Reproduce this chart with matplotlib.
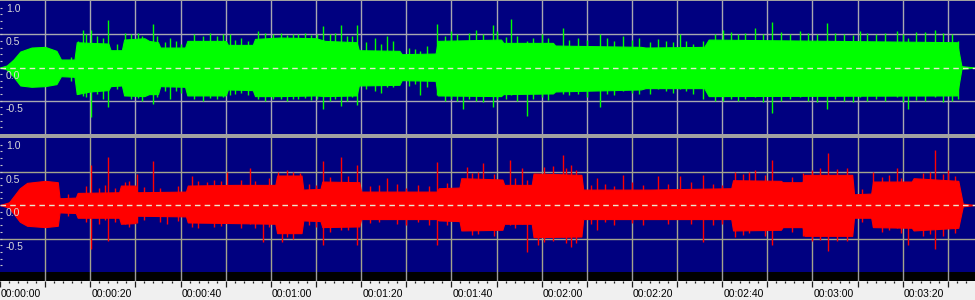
import numpy as np
import matplotlib
matplotlib.use('Agg')
import matplotlib.pyplot as plt

# time axis (seconds)
T_MAX = 216.0
label_secs = [0, 20, 40, 60, 80, 100, 120, 140, 160, 180, 200]
label_text = ['00:00:00', '00:00:20', '00:00:40', '00:01:00', '00:01:20',
              '00:01:40', '00:02:00', '00:02:20', '00:02:40', '00:03:00',
              '00:03:20']
amp_labels = [1.0, 0.5, 0.0, -0.5]

# left channel (green) envelope
left_t = [0, 1.5, 3, 4.5, 7, 10, 12.5, 13.5, 16.5, 17, 20, 24, 24.5, 27, 27.5,
          32, 33, 35, 35.5, 41, 41.5, 50, 50.5, 56, 56.5, 62, 70, 72, 79, 79.5,
          88.5, 89, 96.5, 97, 111, 111.5, 122.5, 123, 142, 143, 156, 157, 212,
          213, 216]
left_hi = [0.0, 0.03, 0.12, 0.24, 0.30, 0.31, 0.25, 0.12, 0.12, 0.38, 0.37,
           0.36, 0.26, 0.26, 0.42, 0.44, 0.40, 0.38, 0.30, 0.30, 0.40, 0.40,
           0.34, 0.34, 0.43, 0.45, 0.44, 0.40, 0.38, 0.26, 0.25, 0.20, 0.21,
           0.40, 0.42, 0.37, 0.37, 0.33, 0.31, 0.30, 0.31, 0.42, 0.38, 0.02,
           0.0]
left_lo = [0.0, -0.03, -0.14, -0.27, -0.29, -0.28, -0.25, -0.13, -0.14, -0.40,
           -0.36, -0.34, -0.28, -0.27, -0.42, -0.43, -0.40, -0.40, -0.28,
           -0.29, -0.42, -0.42, -0.33, -0.34, -0.43, -0.43, -0.42, -0.43,
           -0.42, -0.27, -0.26, -0.19, -0.20, -0.42, -0.43, -0.40, -0.39,
           -0.36, -0.33, -0.31, -0.31, -0.43, -0.42, -0.02, 0.0]
# single peaks sticking out of the envelope
left_spk_t = [15.7, 17.3, 18.4, 20.1, 24.0, 27.7, 33.9, 37.7, 50.9, 57.2, 64.9,
              71.5, 75.5, 79.1, 85.7, 93.0, 96.8, 102.5, 109.2, 113.2, 116.8,
              124.7, 132.9, 138.0, 145.8, 150.6, 155.7, 160.1, 167.2, 171.0,
              177.2, 183.2, 190.5, 198.7, 201.1, 207.1, 212.2,
              19, 21.5, 22.8, 26, 29, 30.5, 31.5, 34.8, 36.5, 39, 40.2, 43,
              45, 46.5, 48, 49.3, 52, 53.5, 55, 58.8, 60.5, 62.3, 63.5, 66,
              67.5, 68.8, 70.2, 73, 74.3, 76.8, 78, 81, 83, 84.5, 87, 90.5,
              92, 94.5, 98.5, 100, 101.3, 104, 105.5, 107, 110, 112, 114.5,
              118, 120, 121.5, 126, 128, 130, 134.5, 136, 140, 141.5, 144,
              147.5, 149, 152, 153.5, 158.5, 162, 163.5, 165, 169, 173, 175,
              179, 181, 185, 187, 189, 192, 194, 196, 200, 203, 205, 209, 211]
left_spk_hi = [0.16, 0.40, 0.57, 0.57, 0.72, 0.52, 0.65, 0.45, 0.50, 0.55, 0.50,
               0.62, 0.64, 0.64, 0.48, 0.25, 0.66, 0.40, 0.64, 0.73, 0.40,
               0.60, 0.50, 0.48, 0.43, 0.50, 0.40, 0.57, 0.60, 0.69, 0.55,
               0.67, 0.55, 0.55, 0.45, 0.56, 0.40,
               0.50, 0.48, 0.45, 0.35, 0.50, 0.52, 0.48, 0.47, 0.38, 0.40,
               0.36, 0.50, 0.47, 0.52, 0.48, 0.50, 0.42, 0.45, 0.40, 0.52,
               0.50, 0.52, 0.49, 0.50, 0.52, 0.49, 0.51, 0.50, 0.52, 0.47,
               0.48, 0.38, 0.45, 0.35, 0.40, 0.30, 0.28, 0.32, 0.48, 0.55,
               0.50, 0.52, 0.56, 0.50, 0.55, 0.46, 0.48, 0.45, 0.50, 0.44,
               0.42, 0.45, 0.42, 0.44, 0.40, 0.42, 0.44, 0.38, 0.40, 0.38,
               0.40, 0.36, 0.50, 0.53, 0.50, 0.52, 0.50, 0.54, 0.50, 0.52,
               0.50, 0.52, 0.50, 0.49, 0.52, 0.50, 0.52, 0.50, 0.53, 0.54,
               0.52, 0.50]
left_spk_lo = [-0.20, -0.40, -0.43, -0.75, -0.60, -0.42, -0.55, -0.48, -0.42,
               -0.48, -0.48, -0.63, -0.58, -0.57, -0.30, -0.41, -0.42, -0.63,
               -0.59, -0.42, -0.73, -0.40, -0.60, -0.36, -0.33, -0.33, -0.48,
               -0.50, -0.45, -0.68, -0.45, -0.63, -0.45, -0.45, -0.63, -0.45,
               -0.48,
               -0.45, -0.40, -0.48, -0.33, -0.48, -0.46, -0.50, -0.45, -0.36,
               -0.35, -0.38, -0.47, -0.50, -0.46, -0.48, -0.45, -0.40, -0.38,
               -0.42, -0.50, -0.47, -0.48, -0.50, -0.48, -0.46, -0.49, -0.47,
               -0.50, -0.47, -0.50, -0.45, -0.32, -0.35, -0.38, -0.30, -0.28,
               -0.25, -0.30, -0.50, -0.48, -0.50, -0.48, -0.50, -0.52, -0.48,
               -0.47, -0.50, -0.47, -0.45, -0.49, -0.42, -0.40, -0.45, -0.40,
               -0.42, -0.38, -0.40, -0.40, -0.36, -0.38, -0.36, -0.40, -0.50,
               -0.48, -0.50, -0.47, -0.52, -0.50, -0.48, -0.50, -0.52, -0.48,
               -0.50, -0.52, -0.50, -0.48, -0.50, -0.52, -0.49, -0.50, -0.52,
               -0.50]

# right channel (red)
right_t = [0, 2, 4.4, 6, 10, 12.8, 13.2, 16.8, 17.2, 26.4, 26.8, 30, 30.4, 41.2,
           41.6, 52, 61, 61.4, 66.8, 67.2, 71, 71.4, 79.6, 80, 96.8, 97.2,
           101.8, 102.2, 111.3, 111.7, 117.8, 118.2, 128.8, 129.2, 144, 162,
           162.4, 173, 173.4, 177.8, 178.2, 188.8, 189.2, 193, 193.4, 202,
           202.4, 212.3, 213.3, 216]
right_hi = [0.0, 0.04, 0.25, 0.33, 0.36, 0.34, 0.10, 0.11, 0.18, 0.19, 0.29,
            0.29, 0.19, 0.20, 0.29, 0.30, 0.30, 0.44, 0.44, 0.23, 0.24, 0.35,
            0.34, 0.20, 0.20, 0.25, 0.26, 0.40, 0.38, 0.30, 0.30, 0.47, 0.45,
            0.23, 0.23, 0.25, 0.37, 0.36, 0.34, 0.34, 0.45, 0.45, 0.16, 0.17,
            0.35, 0.35, 0.40, 0.36, 0.02, 0.0]
right_lo = [0.0, -0.04, -0.25, -0.31, -0.33, -0.31, -0.11, -0.12, -0.19, -0.19,
            -0.28, -0.27, -0.16, -0.17, -0.26, -0.27, -0.28, -0.42, -0.42,
            -0.23, -0.24, -0.33, -0.32, -0.21, -0.21, -0.23, -0.24, -0.38,
            -0.37, -0.28, -0.28, -0.48, -0.47, -0.21, -0.21, -0.21, -0.38,
            -0.37, -0.33, -0.33, -0.46, -0.46, -0.19, -0.19, -0.33, -0.34,
            -0.38, -0.34, -0.02, 0.0]
right_spk_t = [15.1, 20.1, 24.0, 27.7, 30.3, 33.9, 37.0, 42.5, 45.8, 50.2, 55.4,
               58.3, 61.6, 62.4, 66.4, 71.6, 75.5, 79.1, 85.7, 96.8, 103.4,
               107.0, 113.0, 115.6, 116.8, 119.2, 124.7, 126.6, 132.2, 138.0,
               145.8, 150.6, 155.7, 162.8, 167.2, 171.0, 177.9, 183.4, 187.6,
               193.4, 198.7, 201.1, 207.1, 210.0,
               19, 22, 23.3, 25.5, 28.5, 32, 35.5, 39.5, 43.8, 47.5, 49, 53.5,
               56.5, 59.5, 63.5, 65, 68.5, 70, 73, 77, 82, 84, 88, 90, 92.5,
               95, 99, 104.5, 106, 109.5, 114, 120.5, 122.5, 125.5, 127.5,
               131, 134, 136, 140, 142.5, 148, 153, 158, 160, 164.5, 166,
               169.5, 175.5, 180, 181.7, 185.5, 191, 195.5, 197, 199.5, 204.5,
               206, 209, 211.5]
right_spk_hi = [0.16, 0.60, 0.72, 0.35, 0.47, 0.65, 0.20, 0.43, 0.35, 0.50,
                0.55, 0.30, 0.50, 0.44, 0.48, 0.65, 0.72, 0.60, 0.40, 0.64,
                0.57, 0.62, 0.67, 0.55, 0.38, 0.45, 0.75, 0.60, 0.40, 0.45,
                0.43, 0.43, 0.45, 0.50, 0.52, 0.67, 0.48, 0.77, 0.55, 0.50,
                0.55, 0.35, 0.82, 0.52,
                0.28, 0.26, 0.30, 0.25, 0.36, 0.27, 0.26, 0.28, 0.36, 0.38,
                0.36, 0.37, 0.36, 0.40, 0.52, 0.50, 0.32, 0.30, 0.42, 0.44,
                0.28, 0.30, 0.32, 0.26, 0.30, 0.28, 0.33, 0.48, 0.50, 0.46,
                0.40, 0.56, 0.58, 0.55, 0.52, 0.30, 0.32, 0.28, 0.34, 0.30,
                0.32, 0.34, 0.32, 0.30, 0.46, 0.50, 0.45, 0.42, 0.52, 0.55,
                0.53, 0.24, 0.42, 0.45, 0.40, 0.48, 0.50, 0.46, 0.44]
right_spk_lo = [-0.16, -0.65, -0.53, -0.28, -0.27, -0.17, -0.28, -0.33, -0.17,
                -0.27, -0.28, -0.55, -0.42, -0.55, -0.42, -0.60, -0.38, -0.60,
                -0.21, -0.60, -0.38, -0.38, -0.30, -0.28, -0.70, -0.60, -0.48,
                -0.63, -0.38, -0.21, -0.21, -0.21, -0.55, -0.48, -0.37, -0.60,
                -0.46, -0.68, -0.53, -0.33, -0.34, -0.60, -0.65, -0.34,
                -0.26, -0.28, -0.22, -0.26, -0.33, -0.22, -0.25, -0.24, -0.35,
                -0.33, -0.32, -0.34, -0.35, -0.33, -0.48, -0.50, -0.30, -0.33,
                -0.40, -0.38, -0.27, -0.26, -0.28, -0.30, -0.26, -0.30, -0.30,
                -0.45, -0.44, -0.47, -0.35, -0.55, -0.53, -0.56, -0.56, -0.28,
                -0.26, -0.30, -0.27, -0.30, -0.28, -0.28, -0.30, -0.28, -0.45,
                -0.42, -0.46, -0.40, -0.53, -0.52, -0.54, -0.25, -0.40, -0.38,
                -0.42, -0.46, -0.44, -0.46, -0.42]

NAVY = '#000080'
FONT = 'Liberation Sans'
H = 300.0


def add_px_axes(fig, top, bottom):
    return fig.add_axes([0, (H - bottom) / H, 1, (bottom - top) / H])


def draw_channel(ax, t, hi, lo, st, shi, slo, color, grid_color):
    ax.set_facecolor(NAVY)
    ax.set_xlim(0, T_MAX)
    ax.set_ylim(-1, 1)
    for s in ax.spines.values():
        s.set_visible(False)
    for x in np.arange(10, T_MAX, 10):
        ax.axvline(x, color=grid_color, lw=1.0, zorder=1)
    for y in (0.5, -0.5):
        ax.axhline(y, color=grid_color, lw=1.0, zorder=1)
    ax.fill_between(t, lo, hi, color=color, lw=0.8, zorder=2)
    ax.vlines(st, slo, shi, color=color, lw=1.0, zorder=2)
    ax.axhline(0, color='#e8e8d0', lw=1.0, ls=(0, (4, 3)), zorder=4)
    ax.set_xticks([])
    ax.set_yticks([])
    ax.set_yticks(np.arange(-0.9, 1.0, 0.1), minor=True)
    ax.tick_params(axis='y', which='minor', direction='in', length=1.6,
                   width=0.8, color='#c8c8c8', labelleft=False)
    for v in amp_labels:
        ax.annotate('%.1f' % v, xy=(0, v), xycoords=('axes fraction', 'data'),
                    xytext=(4.3, -2.2), textcoords='offset points',
                    ha='left', va='top', fontsize=7.5, family=FONT,
                    color='#d8d8d8', zorder=5)


fig = plt.figure(figsize=(9.75, 3.0), dpi=100, facecolor='#a0a0a0')

ax_top = add_px_axes(fig, 1, 134)
draw_channel(ax_top, left_t, left_hi, left_lo, left_spk_t, left_spk_hi,
             left_spk_lo, '#00ff00', '#a8a8b0')

ax_bot = add_px_axes(fig, 138, 272)
draw_channel(ax_bot, right_t, right_hi, right_lo, right_spk_t, right_spk_hi,
             right_spk_lo, '#ff0000', '#a4a48c')

# black strip under the waveforms
ax_band = add_px_axes(fig, 272, 281)
ax_band.set_facecolor('black')
ax_band.set_xlim(0, T_MAX)
for x in np.arange(10, T_MAX, 10):
    ax_band.axvline(x, color='#9a9a9a', lw=1.0)
ax_band.set_xticks([])
ax_band.set_yticks([])
for s in ax_band.spines.values():
    s.set_visible(False)

# time ruler
ax_time = add_px_axes(fig, 281, 300)
ax_time.set_facecolor('#f0f0f0')
ax_time.set_xlim(0, T_MAX)
ax_time.set_ylim(0, 1)
for s in ax_time.spines.values():
    s.set_visible(False)
ax_time.xaxis.set_ticks_position('top')
ax_time.set_xticks(np.arange(0, T_MAX, 10))
ax_time.set_xticks(np.arange(0, T_MAX, 2), minor=True)
ax_time.tick_params(axis='x', which='major', direction='in', length=4.3,
                    width=0.9, color='#202020', labeltop=False,
                    labelbottom=False)
ax_time.tick_params(axis='x', which='minor', direction='in', length=1.4,
                    width=0.9, color='#202020')
ax_time.set_yticks([])
for sec, txt in zip(label_secs, label_text):
    ax_time.annotate(txt, xy=(sec, 0), xycoords=('data', 'axes fraction'),
                     xytext=(0.8, 2.4), textcoords='offset points',
                     ha='left', va='baseline', fontsize=7.5, family=FONT,
                     color='#000000')

fig.savefig('out.png', dpi=100, facecolor=fig.get_facecolor())
